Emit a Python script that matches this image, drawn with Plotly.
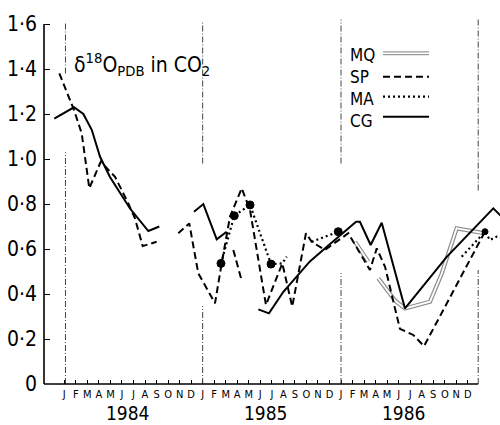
import plotly.graph_objects as go

# ---------------- data (x = month index, 0 = Jan 1984) ----------------
months = ["J", "F", "M", "A", "M", "J", "J", "A", "S", "O", "N", "D"]
years = ["1984", "1985", "1986"]
series_names = ["MQ", "SP", "MA", "CG"]
y_ticks = [0, 0.2, 0.4, 0.6, 0.8, 1.0, 1.2, 1.4, 1.6]
y_ticktext = ["0", "0·2", "0·4", "0·6", "0·8", "1·0", "1·2", "1·4", "1·6"]

mq_x = [25.21, 26.37, None, 27.23, 28.7, 29.55, 31.72, 32.73, 34.03, 36.48]
mq_y = [0.632, 0.544, None, 0.47, 0.37, 0.336, 0.366, 0.49, 0.692, 0.670]

sp_x = [-0.43, 0.84, 1.51, 2.17, 3.16, 4.40, 5.55, 6.13, 6.80, 8.01, None,
        9.89, 10.84, 11.62, 13.07, 13.65, 13.94, 14.37, 15.39, 16.11, 17.49,
        18.91, 19.77, 20.96, 21.46, 22.6, 24.63, 26.51, 27.1, 27.82, 29.11,
        30.27, 31.2, 36.48]
sp_y = [1.381, 1.218, 1.114, 0.870, 0.988, 0.921, 0.803, 0.736, 0.613, 0.632, None,
        0.670, 0.714, 0.492, 0.359, 0.536, 0.625, 0.744, 0.870, 0.773, 0.351,
        0.536, 0.344, 0.670, 0.632, 0.596, 0.670, 0.507, 0.603, 0.521, 0.245,
        0.218, 0.168, 0.677]
sp2_x = [14.66, 15.33]
sp2_y = [0.596, 0.470]

ma_x = [13.59, 14.74, 16.11, 17.93, 18.91, 19.29, None, 21.46, 23.76, None,
        34.47, 36.49, 36.92, 37.5, 38.3]
ma_y = [0.536, 0.748, 0.796, 0.533, 0.536, 0.566, None, 0.632, 0.677, None,
        0.566, 0.677, 0.640, 0.655, 0.64]
# MA sample points marked with a filled dot
ma_dot_x = [13.59, 14.74, 16.11, 17.93, 23.76, 36.49]
ma_dot_y = [0.536, 0.748, 0.796, 0.533, 0.677, 0.677]
ma_dot_size = [8, 8, 8, 8, 8, 6]

cg_x = [-0.87, 0.84, 1.65, 2.38, 3.10, 3.96, 4.83, 5.70, 7.29, 8.24, None,
        11.25, 12.06, 13.22, 14.08, None,
        16.83, 17.75, 19.0, 20.0, 21.3, 23.0, 25.31, 25.64, 26.57, 27.53,
        29.55, 33.17, 37.21, 37.79, 38.5]
cg_y = [1.18, 1.23, 1.20, 1.13, 1.01, 0.92, 0.85, 0.78, 0.68, 0.70, None,
        0.766, 0.80, 0.643, 0.677, None,
        0.332, 0.314, 0.41, 0.47, 0.545, 0.62, 0.721, 0.721, 0.618, 0.717,
        0.336, 0.565, 0.781, 0.751, 0.72]

# ---------------- layout constants ----------------
W, H = 500, 425
ML, MB = 44, 41
XMIN, XMAX = -1.761, 37.79
YMAX = 1.707
X_AXIS_END = 35.9
FONT = "Liberation Sans Narrow, DejaVu Sans Condensed, DejaVu Sans, sans-serif"


def px(xpix):
    return (xpix - ML) / (W - ML)


def py(ypix):
    return (H - MB - ypix) / (H - MB)


fig = go.Figure()

# MQ: hollow double grey line
fig.add_trace(go.Scatter(x=mq_x, y=mq_y, mode="lines",
                         line=dict(color="#8c8c8c", width=4.2)))
fig.add_trace(go.Scatter(x=mq_x, y=mq_y, mode="lines",
                         line=dict(color="white", width=1.8)))
# SP dashed
fig.add_trace(go.Scatter(x=sp_x, y=sp_y, mode="lines",
                         line=dict(color="black", width=2, dash="7px,4px")))
fig.add_trace(go.Scatter(x=sp2_x, y=sp2_y, mode="lines",
                         line=dict(color="black", width=2, dash="7px,4px")))
# MA dotted
fig.add_trace(go.Scatter(x=ma_x, y=ma_y, mode="lines",
                         line=dict(color="black", width=2.2, dash="2px,3px")))
# CG solid
fig.add_trace(go.Scatter(x=cg_x, y=cg_y, mode="lines",
                         line=dict(color="black", width=2)))
# MA dots
fig.add_trace(go.Scatter(x=ma_dot_x, y=ma_dot_y, mode="markers",
                         marker=dict(color="#000000", size=ma_dot_size, opacity=1,
                                     line=dict(color="#000000", width=1))))

shapes = []
# vertical dash-dot year separators (segments)
vsegs = [(0.1, 0, 1.03), (0.1, 1.38, 1.61),
         (12, 0, 0.347), (12, 0.98, 1.61),
         (24, 0, 0.493), (24, 0.98, 1.62),
         (35.9, 0, 0.507), (35.9, 0.86, 1.62)]
for xv, y0, y1 in vsegs:
    shapes.append(dict(type="line", xref="x", yref="y", x0=xv, x1=xv, y0=y0, y1=y1,
                       line=dict(color="#444", width=1, dash="6px,2px,1px,2px")))
# axis lines
shapes.append(dict(type="line", xref="paper", yref="paper", x0=0, x1=0,
                   y0=0, y1=1.6 / YMAX, line=dict(color="black", width=1.6)))
shapes.append(dict(type="line", xref="paper", yref="paper", x0=0,
                   x1=(X_AXIS_END - XMIN) / (XMAX - XMIN), y0=0, y1=0,
                   line=dict(color="black", width=1.6)))

# legend samples
lx0, lx1 = px(383), px(429)
shapes.append(dict(type="line", xref="paper", yref="paper", x0=lx0, x1=lx1,
                   y0=py(53.3), y1=py(53.3), line=dict(color="#9a9a9a", width=4)))
shapes.append(dict(type="line", xref="paper", yref="paper", x0=lx0, x1=lx1,
                   y0=py(53.3), y1=py(53.3), line=dict(color="white", width=1.6)))
shapes.append(dict(type="line", xref="paper", yref="paper", x0=lx0, x1=lx1,
                   y0=py(76.7), y1=py(76.7), line=dict(color="black", width=2, dash="7px,4px")))
shapes.append(dict(type="line", xref="paper", yref="paper", x0=lx0, x1=lx1,
                   y0=py(96.7), y1=py(96.7), line=dict(color="black", width=2.2, dash="2px,3px")))
shapes.append(dict(type="line", xref="paper", yref="paper", x0=lx0, x1=lx1,
                   y0=py(116.7), y1=py(116.7), line=dict(color="black", width=2)))

annotations = []
annotations.append(dict(text="<br>".join(series_names), xref="paper", yref="paper",
                        x=px(348), y=py(87.5), xanchor="left", yanchor="middle",
                        align="left", showarrow=False,
                        font=dict(family=FONT, size=17, color="black")))
annotations.append(dict(text="δ<sup>18</sup>O<sub>PDB</sub> in CO<sub>2</sub>",
                        xref="paper", yref="paper", x=px(72), y=py(64),
                        xanchor="left", yanchor="middle", showarrow=False,
                        font=dict(family=FONT, size=21, color="black")))
for i, yr in enumerate(years):
    annotations.append(dict(text=yr, xref="x", yref="paper", x=5.5 + 12 * i, y=py(413),
                            xanchor="center", yanchor="middle", showarrow=False,
                            font=dict(family=FONT, size=19, color="black")))

fig.update_layout(
    width=W, height=H,
    margin=dict(l=ML, r=0, t=0, b=MB),
    plot_bgcolor="white", paper_bgcolor="white",
    showlegend=False,
    shapes=shapes, annotations=annotations,
    xaxis=dict(range=[XMIN, XMAX], tickvals=list(range(36)), ticktext=months * 3,
               ticks="inside", ticklen=4, tickcolor="black", tickwidth=1,
               showgrid=False, zeroline=False, showline=False, automargin=False,
               tickfont=dict(family=FONT, size=11, color="black"), tickangle=0,
               ticklabelstandoff=2),
    yaxis=dict(range=[0, YMAX], tickvals=y_ticks, ticktext=y_ticktext,
               ticks="inside", ticklen=6, tickcolor="black", tickwidth=1,
               showgrid=False, zeroline=False, showline=False, automargin=False,
               tickfont=dict(family=FONT, size=21, color="black"),
               ticklabelstandoff=6),
)

fig.write_html("out.html")
